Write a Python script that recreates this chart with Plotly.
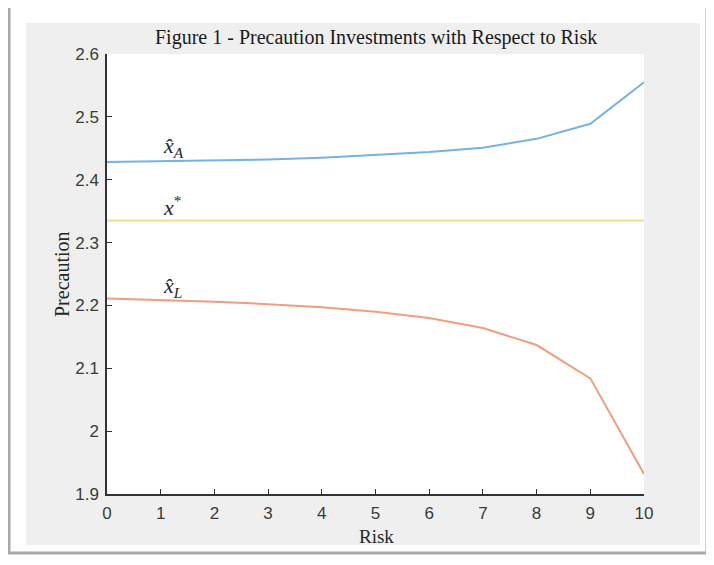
import plotly.graph_objects as go

risk = [0, 1, 2, 3, 4, 5, 6, 7, 8, 9, 10]
x_hat_A = [2.428, 2.429, 2.430, 2.432, 2.435, 2.439, 2.444, 2.451, 2.465, 2.489, 2.555]
x_star = [2.335] * 11
x_hat_L = [2.211, 2.209, 2.206, 2.202, 2.197, 2.190, 2.180, 2.164, 2.137, 2.084, 1.932]

x_ticks = [0, 1, 2, 3, 4, 5, 6, 7, 8, 9, 10]
y_ticks = [1.9, 2.0, 2.1, 2.2, 2.3, 2.4, 2.5, 2.6]
y_tick_text = ["1.9", "2", "2.1", "2.2", "2.3", "2.4", "2.5", "2.6"]

OFF = 8  # page body margin in the browser
W, H = 714 - OFF, 565 - OFF
L, R, T, B = 107 - OFF, 644 - OFF, 54 - OFF, 494 - OFF  # plot area in figure pixels


def px(x):
    return (x - OFF - L) / (R - L)


def py(y):
    return (B - (y - OFF)) / (B - T)


fig = go.Figure()
fig.add_trace(go.Scatter(x=risk, y=x_hat_A, mode="lines",
                         line=dict(color="#74b2e0", width=2), showlegend=False))
fig.add_trace(go.Scatter(x=risk, y=x_star, mode="lines",
                         line=dict(color="#f8d991", width=2), showlegend=False))
fig.add_trace(go.Scatter(x=risk, y=x_hat_L, mode="lines",
                         line=dict(color="#ef9f80", width=2), showlegend=False))

serif = "Liberation Serif, Times New Roman, serif"
sans = "Liberation Sans, Arial, Helvetica, sans-serif"

shapes = [
    # outer page frame with shadow
    dict(type="rect", xref="paper", yref="paper", x0=px(9), x1=px(707), y0=py(553), y1=py(5),
         line=dict(color="#a8a8a8", width=3), fillcolor="white", layer="below"),
    # gray figure background
    dict(type="rect", xref="paper", yref="paper", x0=px(26), x1=px(700), y0=py(545), y1=py(23),
         line=dict(width=0), fillcolor="#efefef", layer="below"),
    # white axes background
    dict(type="rect", xref="paper", yref="paper", x0=0, x1=1, y0=0, y1=1,
         line=dict(width=0), fillcolor="white", layer="below"),
]

annotations = [
    dict(text="<i>x̂</i><sub><i>A</i></sub>", x=1, y=2.452, xref="x", yref="y",
         xanchor="left", yanchor="middle", showarrow=False,
         font=dict(family=serif, size=22, color="#262626")),
    dict(text="<i>x</i><sup>*</sup>", x=1, y=2.358, xref="x", yref="y",
         xanchor="left", yanchor="middle", showarrow=False,
         font=dict(family=serif, size=22, color="#262626")),
    dict(text="<i>x̂</i><sub><i>L</i></sub>", x=1, y=2.230, xref="x", yref="y",
         xanchor="left", yanchor="middle", showarrow=False,
         font=dict(family=serif, size=22, color="#262626")),
    dict(text="Risk", x=px(376), y=py(536), xref="paper", yref="paper",
         xanchor="center", yanchor="middle", showarrow=False,
         font=dict(family=serif, size=19, color="#262626")),
    dict(text="Precaution", x=px(62), y=py(274), xref="paper", yref="paper",
         xanchor="center", yanchor="middle", showarrow=False, textangle=-90,
         font=dict(family=serif, size=20, color="#262626")),
    dict(text="Figure 1 - Precaution Investments with Respect to Risk",
         x=px(376), y=py(38), xref="paper", yref="paper",
         xanchor="center", yanchor="middle", showarrow=False,
         font=dict(family=serif, size=20, color="#1a1a1a")),
]

fig.update_layout(
    width=W, height=H,
    margin=dict(l=L, r=W - R, t=T, b=H - B),
    paper_bgcolor="white",
    plot_bgcolor="rgba(0,0,0,0)",
    shapes=shapes,
    annotations=annotations,
    xaxis=dict(range=[0, 10], tickvals=x_ticks, ticktext=[str(v) for v in x_ticks],
               showgrid=False, zeroline=False, showline=True, linecolor="#333333",
               linewidth=1.5, ticks="inside", ticklen=5, tickcolor="#333333", tickwidth=1,
               tickfont=dict(family=sans, size=17, color="#3a3a3a"), ticklabelstandoff=3),
    yaxis=dict(range=[1.9, 2.6], tickvals=y_ticks, ticktext=y_tick_text,
               showgrid=False, zeroline=False, showline=True, linecolor="#333333",
               linewidth=1.5, ticks="inside", ticklen=5, tickcolor="#333333", tickwidth=1,
               tickfont=dict(family=sans, size=17, color="#3a3a3a"), ticklabelstandoff=3),
)

fig.write_html("out.html")
